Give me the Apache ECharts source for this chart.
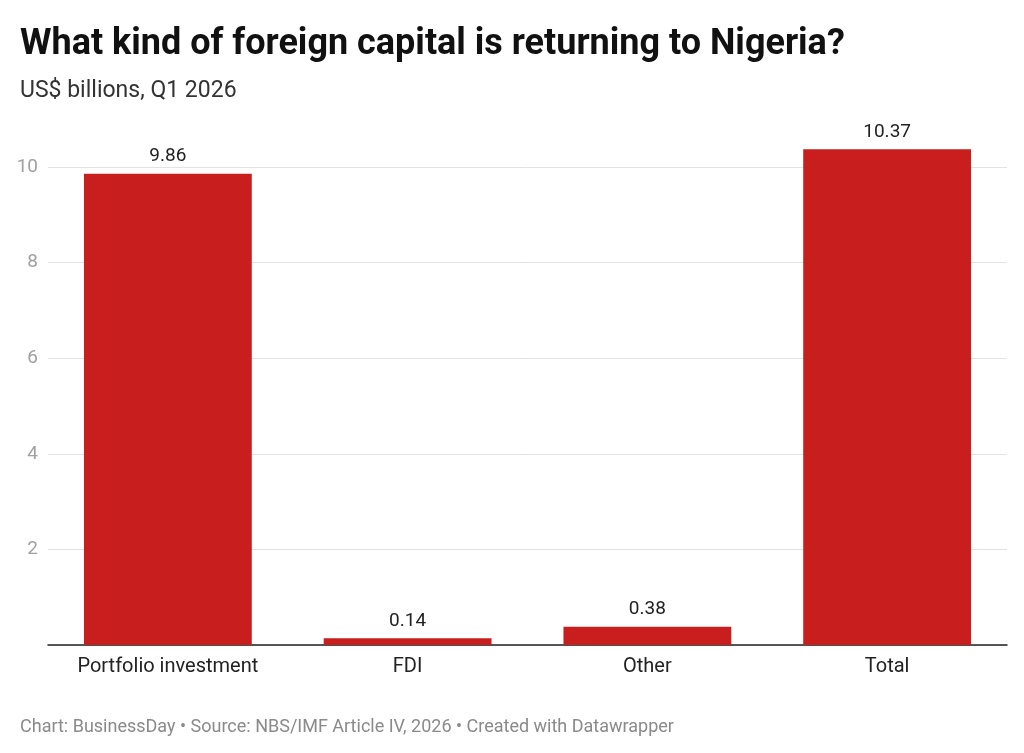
<!DOCTYPE html>
<html lang="en">
<head>
    <meta charset="UTF-8">
    <title>What kind of foreign capital is returning to Nigeria?</title>
    <script src="https://cdn.jsdelivr.net/npm/echarts@6/dist/echarts.min.js"></script>
    <style>
        html, body { margin: 0; padding: 0; background: #fff; }
        #main { width: 1024px; height: 753px; }
    </style>
</head>
<body>
<div id="main"></div>
<script>
    var categories = ['Portfolio investment', 'FDI', 'Other', 'Total'];
    var values = [9.86, 0.14, 0.38, 10.37];
    var yTicks = [2, 4, 6, 8, 10];

    var myChart = echarts.init(document.getElementById('main'));
    var option = {
        backgroundColor: '#ffffff',
        textStyle: { fontFamily: 'Roboto' },
        title: [
            {
                text: 'What kind of foreign capital is returning to Nigeria?',
                left: 15,
                top: 22,
                textStyle: { fontFamily: 'Roboto', fontSize: 36, fontWeight: 'bold', color: '#111' }
            },
            {
                text: 'US$ billions, Q1 2026',
                left: 15,
                top: 75,
                textStyle: { fontFamily: 'Roboto', fontSize: 23, fontWeight: 'normal', color: '#333' }
            },
            {
                text: 'Chart: BusinessDay \u2022 Source: NBS/IMF Article IV, 2026 \u2022 Created with Datawrapper',
                left: 15,
                top: 713,
                textStyle: { fontFamily: 'Roboto', fontSize: 18, fontWeight: 'normal', color: '#8a8a8a' }
            }
        ],
        grid: {
            left: 48,
            right: 17,
            top: 167,
            bottom: 108
        },
        xAxis: {
            type: 'category',
            data: categories,
            axisTick: { show: false },
            axisLine: { lineStyle: { color: '#222', width: 1.5 } },
            axisLabel: { color: '#222', fontSize: 20, margin: 12, fontFamily: 'Roboto' }
        },
        yAxis: {
            type: 'value',
            min: 0,
            max: 10,
            interval: 2,
            axisLine: { show: false },
            axisTick: { show: false },
            splitLine: { lineStyle: { color: '#e3e3e3', width: 1 } },
            axisLabel: {
                color: '#a0a0a0',
                fontSize: 19,
                margin: 10,
                fontFamily: 'Roboto',
                formatter: function (v) { return yTicks.indexOf(v) >= 0 ? String(v) : ''; }
            }
        },
        series: [
            {
                type: 'bar',
                data: values,
                barWidth: '70%',
                clip: false,
                itemStyle: { color: '#c81e1e' },
                label: {
                    show: true,
                    position: 'top',
                    distance: 8,
                    color: '#222',
                    fontSize: 19,
                    fontFamily: 'Roboto',
                    formatter: function (p) { return p.value.toFixed(2); }
                }
            }
        ]
    };
    myChart.setOption(option);
</script>
</body>
</html>
